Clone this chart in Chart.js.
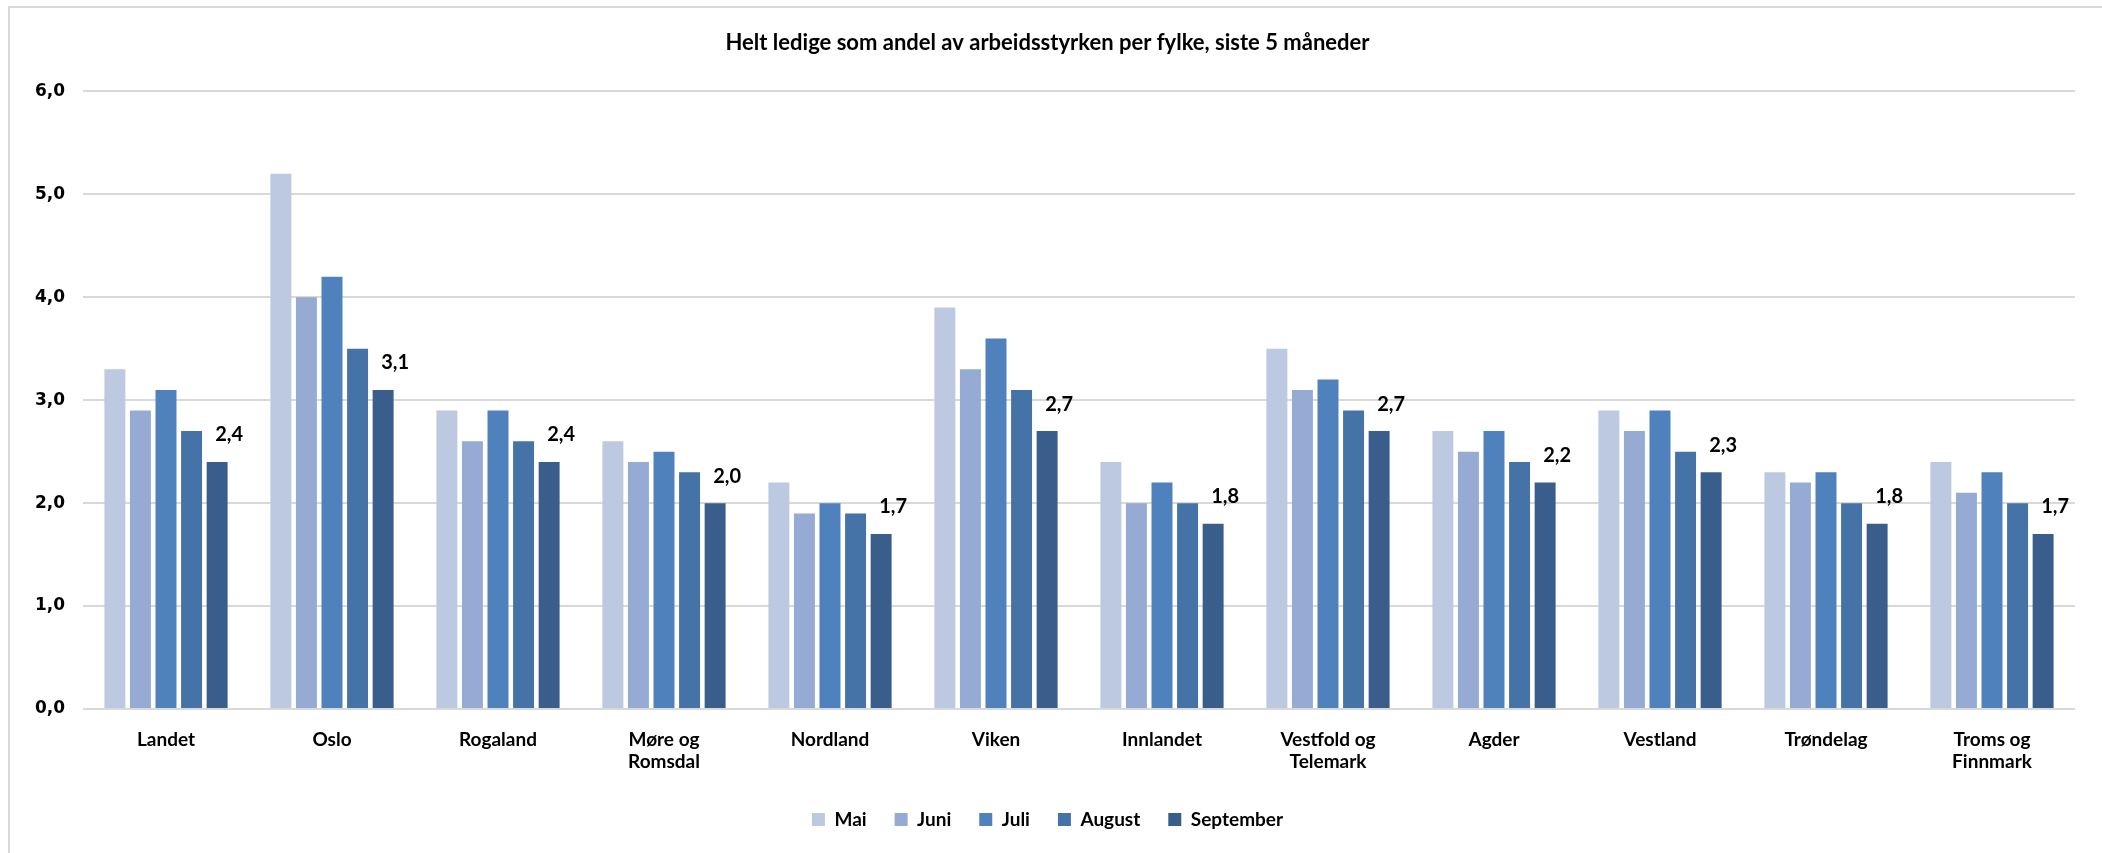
<!DOCTYPE html>
<html lang="no">
<head>
    <meta charset="UTF-8">
    <title>Helt ledige per fylke</title>
    <script src="https://cdn.jsdelivr.net/npm/chart.js"></script>
    <style>
        body {
            margin: 0;
            background: #ffffff;
        }
        .frame {
            position: relative;
            width: 2102px;
            height: 853px;
        }
        .border {
            position: absolute;
            left: 8px;
            top: 6px;
            right: 0;
            bottom: 0;
            border-left: 2px solid #d9d9d9;
            border-top: 2px solid #d9d9d9;
            pointer-events: none;
        }
        canvas {
            display: block;
        }
    </style>
</head>
<body>
    <div class="frame">
        <canvas id="chart" width="2102" height="853"></canvas>
        <div class="border"></div>
    </div>

    <script>
        const title = "Helt ledige som andel av arbeidsstyrken per fylke, siste 5 måneder";
        const categories = [
            "Landet", "Oslo", "Rogaland", ["Møre og", "Romsdal"], "Nordland", "Viken",
            "Innlandet", ["Vestfold og", "Telemark"], "Agder", "Vestland", "Trøndelag", ["Troms og", "Finnmark"]
        ];
        const months = ["Mai", "Juni", "Juli", "August", "September"];
        const mai       = [3.3, 5.2, 2.9, 2.6, 2.2, 3.9, 2.4, 3.5, 2.7, 2.9, 2.3, 2.4];
        const juni      = [2.9, 4.0, 2.6, 2.4, 1.9, 3.3, 2.0, 3.1, 2.5, 2.7, 2.2, 2.1];
        const juli      = [3.1, 4.2, 2.9, 2.5, 2.0, 3.6, 2.2, 3.2, 2.7, 2.9, 2.3, 2.3];
        const august    = [2.7, 3.5, 2.6, 2.3, 1.9, 3.1, 2.0, 2.9, 2.4, 2.5, 2.0, 2.0];
        const september = [2.4, 3.1, 2.4, 2.0, 1.7, 2.7, 1.8, 2.7, 2.2, 2.3, 1.8, 1.7];
        const yTicks = [0, 1, 2, 3, 4, 5, 6];

        const colors = ["#bcc9e1", "#95abd3", "#4f81bd", "#4573a7", "#3a5e8c"];
        const series = [mai, juni, juli, august, september];

        const fmt = v => v.toFixed(1).replace(".", ",");
        const textFont = "Lato, 'Open Sans', sans-serif";

        // etiketter over september-stolpene
        const lastLabels = {
            id: "lastLabels",
            afterDatasetsDraw(chart) {
                const idx = chart.data.datasets.length - 1;
                const meta = chart.getDatasetMeta(idx);
                const ctx = chart.ctx;
                ctx.save();
                ctx.font = "bold 20px " + textFont;
                ctx.fillStyle = "#000000";
                ctx.textAlign = "center";
                ctx.textBaseline = "bottom";
                meta.data.forEach((bar, i) => {
                    ctx.fillText(fmt(chart.data.datasets[idx].data[i]), bar.x + 12, bar.y - 17);
                });
                ctx.restore();
            }
        };

        new Chart(document.getElementById("chart"), {
            type: "bar",
            data: {
                labels: categories,
                datasets: months.map((m, i) => ({
                    label: m,
                    data: series[i],
                    backgroundColor: colors[i],
                    categoryPercentage: 0.77,
                    barPercentage: 0.82
                }))
            },
            options: {
                responsive: false,
                animation: false,
                layout: { padding: { left: 20, right: 27, top: 30, bottom: 14 } },
                plugins: {
                    title: {
                        display: true,
                        text: title,
                        color: "#000000",
                        font: { family: textFont, size: 22, weight: "bold" },
                        padding: { top: 0, bottom: 35 }
                    },
                    legend: {
                        position: "bottom",
                        labels: {
                            color: "#000000",
                            font: { family: textFont, size: 19, weight: "bold" },
                            boxWidth: 13,
                            boxHeight: 13,
                            padding: 28
                        }
                    },
                    tooltip: { enabled: false }
                },
                scales: {
                    x: {
                        grid: { display: false },
                        border: { display: false },
                        ticks: {
                            color: "#000000",
                            font: { family: textFont, size: 19, weight: "bold" },
                            padding: 11,
                            maxRotation: 0
                        },
                        afterFit: s => { s.height = 73; }
                    },
                    y: {
                        min: 0,
                        max: 6,
                        afterBuildTicks: s => { s.ticks = yTicks.map(v => ({ value: v })); },
                        grid: { color: "#d9d9d9", lineWidth: 2, drawTicks: false },
                        border: { display: false },
                        ticks: {
                            color: "#000000",
                            font: { family: "'DejaVu Sans', Verdana, sans-serif", size: 17, weight: "bold" },
                            padding: 18,
                            callback: v => fmt(v)
                        },
                        afterFit: s => { s.width = 63; }
                    }
                }
            },
            plugins: [lastLabels]
        });
    </script>
</body>
</html>
